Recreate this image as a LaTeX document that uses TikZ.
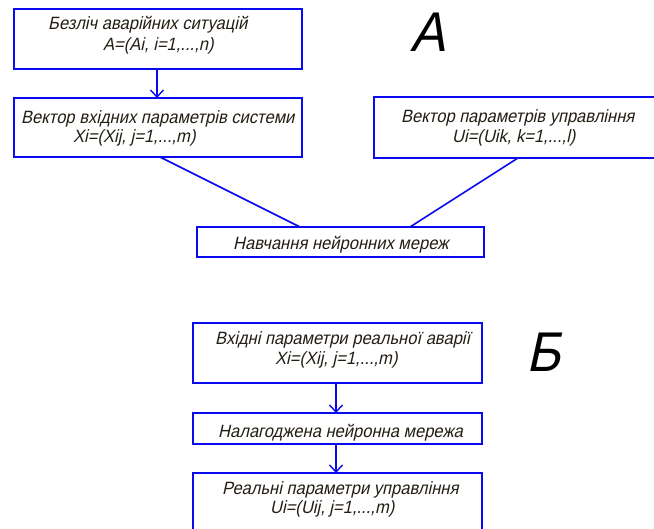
\documentclass[tikz,border=0pt]{standalone}
\usepackage{fontspec}
\setmainfont{Liberation Sans}
\newfontfamily\gost{Liberation Sans}[FakeSlant=0.22,FakeStretch=0.93]
\usetikzlibrary{arrows.meta}
\definecolor{lineblue}{RGB}{10,10,240}
\definecolor{txt}{RGB}{35,30,20}
\begin{document}
\begin{tikzpicture}[x=1pt,y=-1pt,
  boxshape/.style={draw=lineblue,line width=1.6pt},
  lbl/.style={anchor=base west,inner sep=0pt,text=txt,font=\gost\fontsize{17.8}{19}\selectfont},
  biglbl/.style={inner sep=0pt,text=black,font=\gost\fontsize{56}{60}\selectfont},
  conn/.style={draw=lineblue,line width=1.6pt},
  arr/.style={conn,-{Straight Barb[length=7pt,width=13pt,line width=1.4pt]}}]
\useasboundingbox (0,0) rectangle (654,529);
\fill[white] (0,0) rectangle (654,529);
\clip (0,0) rectangle (654,529);
% boxes
\draw[boxshape] (14,9) rectangle (302,69);
\coordinate (b1s) at (157,69);
\coordinate (b2n) at (157,98);
\draw[boxshape] (14,98) rectangle (302,157);
\coordinate (b2s) at (160,157);
\draw[boxshape] (374,97) rectangle (664,158);
\coordinate (b3s) at (518,158);
\draw[boxshape] (197,227) rectangle (484,257);
\coordinate (b4nl) at (300,227);
\coordinate (b4nr) at (410,227);
\draw[boxshape] (193,323) rectangle (482,383);
\coordinate (b5s) at (336,383);
\coordinate (b6n) at (336,413);
\draw[boxshape] (193,413) rectangle (482,444);
\coordinate (b6s) at (336,444);
\coordinate (b7n) at (336,473);
\draw[boxshape] (193,473) rectangle (482,545);
% connectors
\draw[arr] (b1s) -- (b2n);
\draw[conn] (b2s) -- (b4nl);
\draw[conn] (b3s) -- (b4nr);
\draw[arr] (b5s) -- (b6n);
\draw[arr] (b6s) -- (b7n);
% texts
\node[lbl] (t1a) at (48,30) {Безліч аварійних ситуацій};
\node[lbl] (t1b) at (103,51) {A=(Ai, i=1,...,n)};
\node[lbl] (t2a) at (21,124) {Вектор вхідних параметрів системи};
\node[lbl] (t2b) at (73,143) {Xi=(Xij, j=1,...,m)};
\node[lbl] (t3a) at (401,123) {Вектор параметрів управління};
\node[lbl] (t3b) at (452,143) {Ui=(Uik, k=1,...,l)};
\node[lbl] (t4) at (233,250) {Навчання нейронних мереж};
\node[lbl] (t5a) at (215,345) {Вхідні параметри реальної аварії};
\node[lbl] (t5b) at (275,365) {Xi=(Xij, j=1,...,m)};
\node[lbl] (t6) at (218,438) {Налагоджена нейронна мережа};
\node[lbl] (t7a) at (222,495) {Реальні параметри управління};
\node[lbl] (t7b) at (270,514) {Ui=(Uij, j=1,...,m)};
\node[biglbl,anchor=base west] (la) at (410,52) {А};
\node[biglbl,anchor=base west] (lb) at (526,372) {Б};
\end{tikzpicture}
\end{document}
